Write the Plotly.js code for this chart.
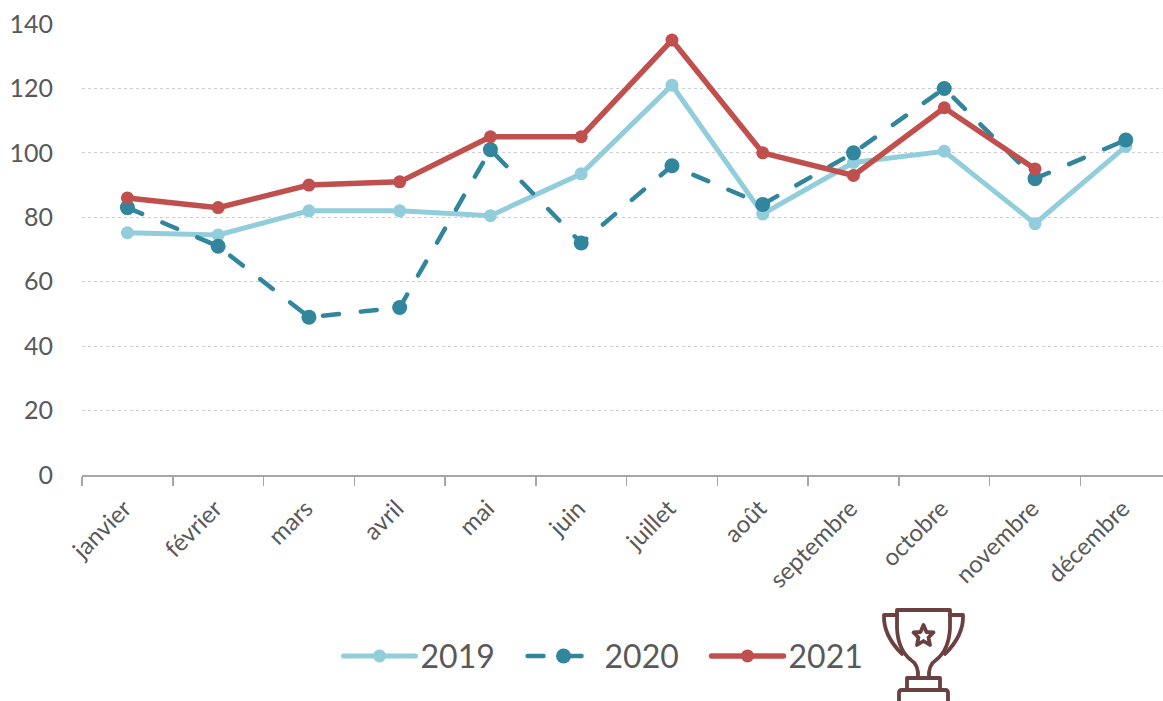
<!DOCTYPE html>
<html>
<head>
<meta charset="utf-8">
<script src="https://cdn.plot.ly/plotly-3.0.1.min.js"></script>
<style>
html,body{margin:0;padding:0;background:#fff;overflow:hidden}
#wrap{position:relative;width:1163px;height:701px}
#chart{position:absolute;left:0;top:0;width:1163px;height:701px}
#trophy{position:absolute;left:0;top:0;pointer-events:none}
#chart .js-line{stroke-linecap:round}
</style>
</head>
<body>
<div id="wrap">
<div id="chart"></div>
<svg id="trophy" width="1163" height="701" viewBox="0 0 1163 701" fill="none" stroke="#6b4040" stroke-width="3.8" stroke-linejoin="round" stroke-linecap="round">
<path d="M897 610 L950 610 L950 628 Q949 650 936 660 Q928 665 929 678 L918 678 Q919 665 911 660 Q898 650 897 628 Z"/>
<path d="M897 615 L884 615 Q883 635 902 654"/>
<path d="M950 615 L963 615 Q964 635 945 654"/>
<path d="M907 678 L940 678 L940 690 L907 690 Z"/>
<path d="M899 701 L899 693 Q899 690 902 690 L945 690 Q948 690 948 693 L948 701"/>
<path d="M923.5 625 L926.5 632 L933.5 632.5 L928.5 637.5 L930 645 L923.5 641 L917 645 L918.5 637.5 L913.5 632.5 L920.5 632 Z"/>
</svg>
</div>
<script>
var months = ["janvier","février","mars","avril","mai","juin","juillet","août","septembre","octobre","novembre","décembre"];
var v2019 = [75.2,74.5,82,82,80.5,93.5,121,81,97,100.5,78,102];
var v2020 = [83,71,49,52,101,72,96,84,100,120,92,104];
var v2021 = [86,83,90,91,105,105,135,100,93,114,95,null];
var textColor = "#595959";
var fontFamily = "Lato, 'Open Sans', sans-serif";

function series(name, y, color, width, size, dash){
  return {type:"scatter",mode:"lines+markers",name:name,x:months,y:y,cliponaxis:false,
    line:{color:color,width:width,dash:dash,shape:"linear"},
    marker:{color:color,size:size,line:{width:0}}};
}
var data = [
  series("2019", v2019, "#92cddc", 5, 13, "solid"),
  series("2020", v2020, "#31859c", 4.5, 15, "16px,22px"),
  series("2021", v2021, "#c0504d", 5.5, 13, "solid")
];
var layout = {
  width:1163,height:701,
  margin:{l:82,r:0,t:24,b:226,pad:0},
  paper_bgcolor:"#fff",plot_bgcolor:"#fff",
  font:{family:fontFamily,color:textColor,size:25},
  showlegend:true,
  legend:{orientation:"h",x:0.5284,xref:"container",xanchor:"center",y:0.064,yref:"container",yanchor:"middle",
    font:{family:fontFamily,size:32,color:textColor},
    itemwidth:72,entrywidth:97,entrywidthmode:"pixels",traceorder:"normal",bgcolor:"rgba(0,0,0,0)"},
  xaxis:{type:"category",categoryorder:"array",categoryarray:months,range:[-0.5,11.41],
    tickson:"boundaries",ticks:"outside",ticklen:9,tickwidth:1.5,tickcolor:"#a6a6a6",
    showline:true,linecolor:"#a6a6a6",linewidth:2,showgrid:false,zeroline:false,
    tickangle:-45,ticklabelstandoff:8,ticklabelshift:-3,tickfont:{family:fontFamily,size:24,color:textColor},automargin:false},
  yaxis:{range:[0,140],tick0:0,dtick:20,showline:false,ticks:"",ticklabelstandoff:28,
    showgrid:true,gridcolor:"#cfcfcf",gridwidth:1,griddash:"dot",zeroline:false,
    tickfont:{family:fontFamily,size:25,color:textColor},automargin:false}
};
Plotly.newPlot("chart",data,layout,{displayModeBar:false,staticPlot:true});
</script>
</body>
</html>
